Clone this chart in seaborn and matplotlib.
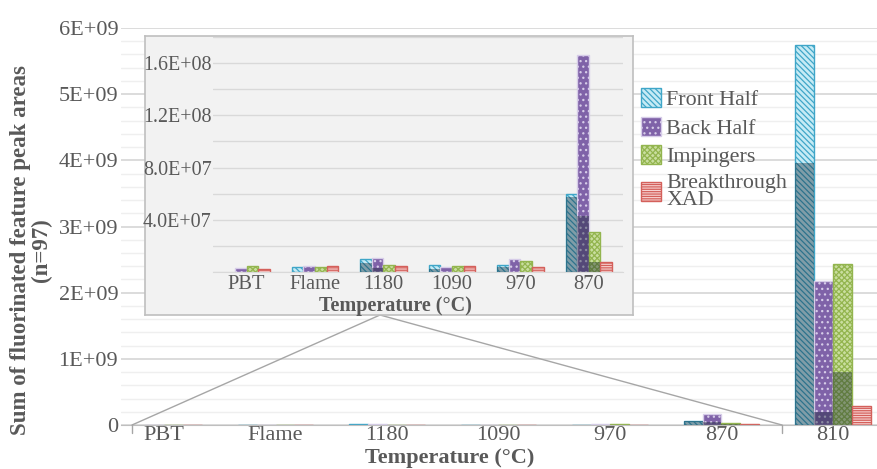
import numpy as np
import pandas as pd
import matplotlib.pyplot as plt
import seaborn as sns
from matplotlib.lines import Line2D
from matplotlib.patches import Patch
from matplotlib.ticker import MultipleLocator

# Sum of fluorinated feature peak areas per sampling train fraction
categories = ["PBT", "Flame", "1180", "1090", "970", "870", "810"]
series = ["Front Half", "Back Half", "Impingers", "Breakthrough XAD"]
legend_labels = ["Front Half", "Back Half", "Impingers", "Breakthrough\nXAD"]

front_half = [0.0, 3.6e6, 10.2e6, 5.6e6, 5.6e6, 60.0e6, 5.75e9]
back_half = [3.0e6, 4.9e6, 10.7e6, 3.8e6, 10.2e6, 166.0e6, 2.18e9]
impingers = [4.3e6, 3.8e6, 5.6e6, 4.9e6, 8.7e6, 31.0e6, 2.43e9]
breakthrough = [2.6e6, 4.3e6, 4.6e6, 4.3e6, 3.8e6, 7.6e6, 0.29e9]

# darker lower part of each bar
front_half_low = [0.0, 0.0, 6.9e6, 2.5e6, 3.8e6, 57.6e6, 3.96e9]
back_half_low = [0.0, 0.0, 3.0e6, 0.0, 0.0, 43.0e6, 0.20e9]
impingers_low = [0.0, 0.0, 0.0, 0.0, 0.0, 7.6e6, 0.80e9]
breakthrough_low = [0.0, 0.0, 0.0, 0.0, 0.0, 0.0, 0.0]

main_yticks = [0, 1e9, 2e9, 3e9, 4e9, 5e9, 6e9]
main_ylabels = ["0", "1E+09", "2E+09", "3E+09", "4E+09", "5E+09", "6E+09"]
inset_yticks = [4e7, 8e7, 1.2e8, 1.6e8]
inset_ylabels = ["4.0E+07", "8.0E+07", "1.2E+08", "1.6E+08"]

values = {"Front Half": front_half, "Back Half": back_half,
          "Impingers": impingers, "Breakthrough XAD": breakthrough}
lows = {"Front Half": front_half_low, "Back Half": back_half_low,
        "Impingers": impingers_low, "Breakthrough XAD": breakthrough_low}

styles = {
    "Front Half": dict(face="#c6ebf5", edge="#3fa6c8", hatch="\\" * 6),
    "Back Half": dict(face="#7f62a8", edge="#d6cce8", hatch="..."),
    "Impingers": dict(face="#c9de9f", edge="#93b54f", hatch="x" * 6),
    "Breakthrough XAD": dict(face="#f7d3d2", edge="#d4605b", hatch="-" * 7),
}

df = pd.concat([pd.DataFrame({"Temperature": categories, "Fraction": s,
                              "area": values[s], "low": lows[s]}) for s in series],
               ignore_index=True)

sns.set_style("white")
plt.rcParams["font.family"] = ["Liberation Serif", "DejaVu Serif"]
plt.rcParams["hatch.linewidth"] = 0.9
GREY = "#595959"

W, H = 877, 469
def fx(px):
    return px / W
def fy(py):
    return 1 - py / H

GROUP = 0.68
BW = GROUP / len(series)


def draw_bars(ax, data):
    order = list(data["Temperature"].unique())
    sns.barplot(data=data, x="Temperature", y="area", hue="Fraction", order=order,
                hue_order=series, palette=[styles[s]["face"] for s in series],
                width=GROUP, gap=0, saturation=1, errorbar=None, legend=False,
                linewidth=1, zorder=2, ax=ax)
    for p in ax.patches:
        xc = p.get_x() + p.get_width() / 2
        k = int(round((xc - round(xc) + GROUP / 2 - BW / 2) / BW))
        st = styles[series[k]]
        p.set_facecolor(st["face"])
        p.set_edgecolor(st["edge"])
        p.set_hatch(st["hatch"])
        if p.get_height() <= 0:
            p.set_linewidth(0)
    sns.barplot(data=data, x="Temperature", y="low", hue="Fraction", order=order,
                hue_order=series, palette=["#10202c"] * len(series),
                width=GROUP, gap=0, saturation=1, errorbar=None, legend=False,
                linewidth=0, alpha=0.38, zorder=3, ax=ax)
    ax.set_ylabel("")


fig = plt.figure(figsize=(W / 100, H / 100), dpi=100)

# main chart
ax = fig.add_axes([fx(121), fy(425), fx(877) - fx(121), fy(28) - fy(425)], zorder=0)
draw_bars(ax, df)
ax.set_xlim(-0.386, 6.395)
ax.set_ylim(0, 6e9)
ax.set_yticks(main_yticks, main_ylabels)
ax.yaxis.set_minor_locator(MultipleLocator(2e8))
ax.set_xticks(np.arange(0.5, 6, 1), minor=True)
ax.tick_params(axis="y", which="both", length=0, pad=2, labelsize=16, labelcolor=GREY)
ax.tick_params(axis="x", which="major", length=0, pad=1, labelsize=16, labelcolor=GREY)
ax.tick_params(axis="x", which="minor", length=6, width=1, color="#bfbfbf", direction="out")
ax.grid(axis="y", which="major", color="#d9d9d9", lw=1.3)
ax.grid(axis="y", which="minor", color="#efefef", lw=1)
ax.set_axisbelow(True)
for s in ["left", "top", "right"]:
    ax.spines[s].set_visible(False)
ax.spines["bottom"].set_color("#bfbfbf")
ax.set_xlabel("Temperature (°C)", fontsize=16, fontweight="bold", color=GREY)
ax.xaxis.set_label_coords((450 - 121) / 756, (425 - 447.5) / 397)

fig.text(fx(31), fy(250), "Sum of fluorinated feature peak areas\n(n=97)", rotation=90,
         ha="center", va="center", multialignment="center", linespacing=1.0,
         fontsize=16.5, fontweight="bold", color=GREY)

# zoom connector
fig.add_artist(Line2D([fx(132), fx(380), fx(782)], [fy(425), fy(315), fy(425)],
                      transform=fig.transFigure, color="#a6a6a6", lw=1, zorder=1))
for xp in (132, 782):
    fig.add_artist(Line2D([fx(xp), fx(xp)], [fy(425), fy(433)],
                          transform=fig.transFigure, color="#a6a6a6", lw=1, zorder=1))

# inset box
box = fig.add_axes([fx(145), fy(315), fx(633) - fx(145), fy(36) - fy(315)], zorder=2)
box.set_facecolor("#f2f2f2")
box.set_xticks([])
box.set_yticks([])
for s in box.spines.values():
    s.set_color("#bfbfbf")
    s.set_linewidth(1.2)

ins = fig.add_axes([fx(213), fy(272), fx(623) - fx(213), fy(37) - fy(272)], zorder=3)
ins.set_facecolor("none")
draw_bars(ins, df[df["Temperature"].isin(categories[:6])])
ins.set_xlim(-0.49, 5.5)
ins.set_ylim(0, 1.8e8)
ins.set_yticks(inset_yticks, inset_ylabels)
ins.yaxis.set_minor_locator(MultipleLocator(2e7))
ins.set_xticks(np.arange(0.5, 5, 1), minor=True)
ins.tick_params(axis="y", which="both", length=0, pad=1, labelsize=14.4, labelcolor=GREY)
ins.tick_params(axis="x", which="major", length=0, pad=2, labelsize=14.8, labelcolor=GREY)
ins.tick_params(axis="x", which="minor", length=4, width=1, color="#d9d9d9", direction="out")
ins.grid(axis="y", which="both", color="#d9d9d9", lw=1)
ins.set_axisbelow(True)
for s in ["left", "top", "right"]:
    ins.spines[s].set_visible(False)
ins.spines["bottom"].set_color("#d9d9d9")
ins.set_xlabel("Temperature (°C)", fontsize=14.5, fontweight="bold", color=GREY)
ins.xaxis.set_label_coords((395 - 213) / 410, (272 - 296) / 235)

handles = [Patch(facecolor=styles[s]["face"], edgecolor=styles[s]["edge"],
                 hatch=styles[s]["hatch"], lw=1) for s in series]
leg = fig.legend(handles, legend_labels, loc="upper left", bbox_to_anchor=(fx(641), fy(88)),
                 frameon=False, fontsize=15.8, labelcolor=GREY, handlelength=0.9,
                 handleheight=0.95, handletextpad=0.25, labelspacing=0.3,
                 borderaxespad=0, borderpad=0)
for t in leg.get_texts():
    t.set_linespacing(0.85)

fig.savefig("out.png", dpi=100)
